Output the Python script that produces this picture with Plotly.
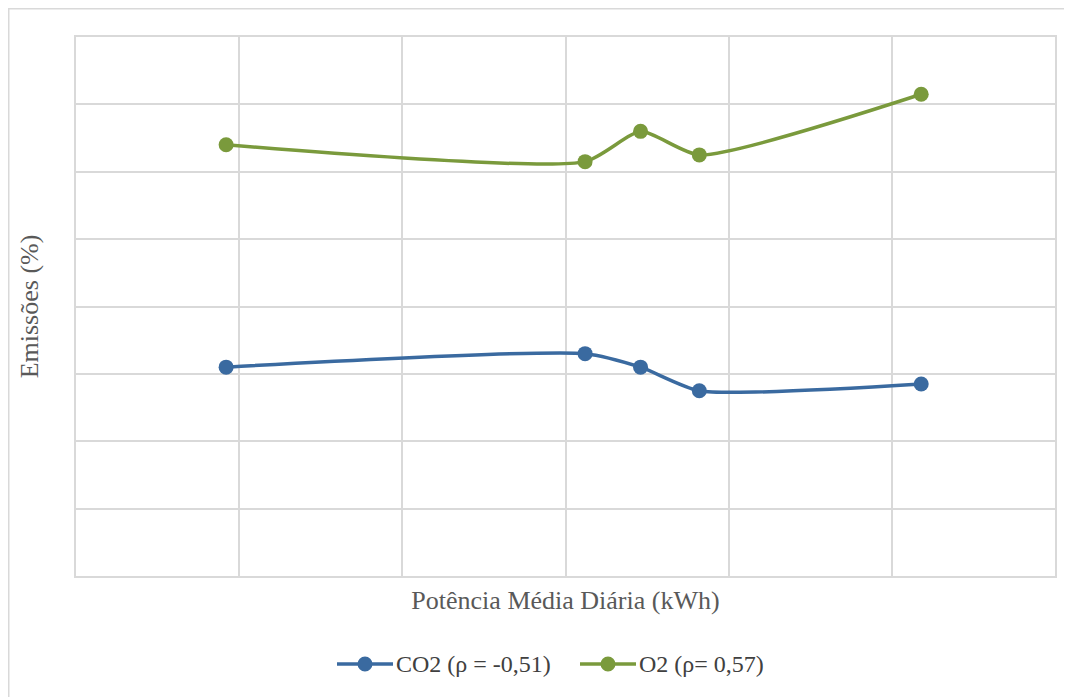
import plotly.graph_objects as go

# Data (axis units hidden in reference)
potencia = [4.6, 15.6, 17.3, 19.1, 25.9]
co2 = [6.2, 6.6, 6.2, 5.5, 5.7]
o2 = [12.8, 12.3, 13.2, 12.5, 14.3]
serie_co2 = "CO2 (ρ = -0,51)"
serie_o2 = "O2 (ρ= 0,57)"
cor_co2 = "#3A6AA0"
cor_o2 = "#7A9A3C"

OFF = 8  # page body margin
W, H = 1072 - OFF, 697 - OFF
L, R, T, B = 76 - OFF, 1055 - OFF, 37 - OFF, 576 - OFF
pw = R - L
ph = B - T

SERIF = "Liberation Serif"

def px_x(xpage):
    return (xpage - OFF - L) / pw

def px_y(ypage):
    return (B - (ypage - OFF)) / ph

fig = go.Figure()
fig.add_trace(go.Scatter(x=potencia, y=co2, name=serie_co2, mode="lines+markers",
                         line=dict(color=cor_co2, width=3.5, shape="spline", smoothing=0.6),
                         marker=dict(size=15, color=cor_co2)))
fig.add_trace(go.Scatter(x=potencia, y=o2, name=serie_o2, mode="lines+markers",
                         line=dict(color=cor_o2, width=3.5, shape="spline", smoothing=0.6),
                         marker=dict(size=15, color=cor_o2)))

# outer chart frame
fig.add_shape(type="rect", xref="paper", yref="paper",
              x0=px_x(8) + 0.5 / pw, x1=px_x(1100),
              y0=px_y(730), y1=px_y(8) - 0.5 / ph,
              line=dict(color="#D9D9D9", width=2), fillcolor="rgba(0,0,0,0)", layer="below")

# custom legend (Excel-style long line symbol)
ly = px_y(664)
for name, color, x_start in [(serie_co2, cor_co2, 337), (serie_o2, cor_o2, 580)]:
    fig.add_shape(type="line", xref="paper", yref="paper",
                  x0=px_x(x_start), x1=px_x(x_start + 56), y0=ly, y1=ly,
                  line=dict(color=color, width=3.5))
    fig.add_shape(type="circle", xref="paper", yref="paper",
                  xsizemode="pixel", ysizemode="pixel",
                  xanchor=px_x(x_start + 28), yanchor=ly,
                  x0=-7.5, x1=7.5, y0=-7.5, y1=7.5,
                  line=dict(color=color, width=0), fillcolor=color)
    fig.add_annotation(xref="paper", yref="paper", x=px_x(x_start + 57), y=ly,
                       xanchor="left", yanchor="middle", showarrow=False, text=name,
                       font=dict(family=SERIF, size=24, color="#404040"))

fig.update_layout(
    width=W, height=H,
    margin=dict(l=L, r=W - R, t=T, b=H - B),
    paper_bgcolor="white", plot_bgcolor="white",
    font=dict(family=SERIF, color="#595959"),
    showlegend=False,
    xaxis=dict(range=[0, 30], dtick=5, showticklabels=False, showgrid=True,
               gridcolor="#D9D9D9", gridwidth=2, zeroline=False,
               showline=True, linecolor="#D9D9D9", linewidth=2, mirror=True, ticks="",
               title=dict(text="Potência Média Diária (kWh)", font=dict(family=SERIF, size=26, color="#595959"), standoff=14)),
    yaxis=dict(range=[0, 16], dtick=2, showticklabels=False, showgrid=True,
               gridcolor="#D9D9D9", gridwidth=2, zeroline=False,
               showline=True, linecolor="#D9D9D9", linewidth=2, mirror=True, ticks="",
               title=dict(text="Emissões (%)", font=dict(family=SERIF, size=26, color="#595959"), standoff=28)),
)

fig.write_html("out.html")
